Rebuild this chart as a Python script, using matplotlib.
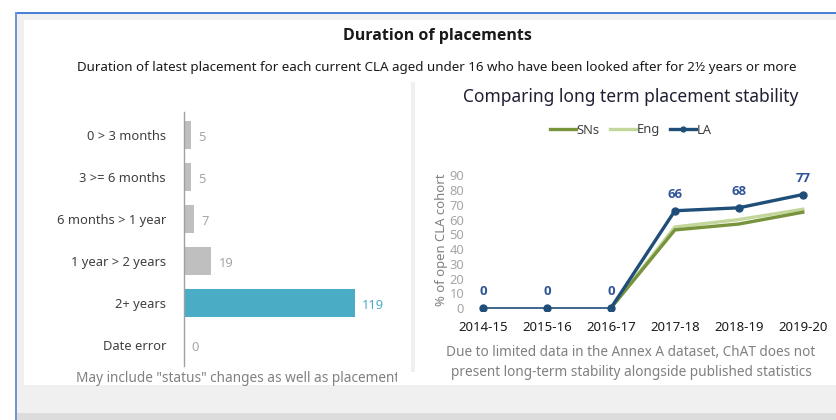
import numpy as np
import matplotlib
matplotlib.use("Agg")
import matplotlib.pyplot as plt
from matplotlib.patches import Rectangle
from matplotlib.lines import Line2D
from matplotlib.transforms import Bbox

plt.rcParams['font.family'] = ['Noto Sans', 'DejaVu Sans']
BOLD_FONT = ['Open Sans', 'DejaVu Sans']

# Left chart data
durations = ["0 > 3 months", "3 >= 6 months", "6 months > 1 year",
             "1 year > 2 years", "2+ years", "Date error"]
counts = [5, 5, 7, 19, 119, 0]

# Right chart data
years = ["2014-15", "2015-16", "2016-17", "2017-18", "2018-19", "2019-20"]
la_vals = [0, 0, 0, 66, 68, 77]
sns_vals = [np.nan, np.nan, 0, 53, 57, 65]
eng_vals = [np.nan, np.nan, 0, 55, 60, 67]

W, H = 837, 420
fig = plt.figure(figsize=(W / 100, H / 100), dpi=100)
fig.patch.set_facecolor("white")


def frac(x0, y0, x1, y1):
    # pixel box (top-left origin) -> figure fraction rect
    return [x0 / W, 1 - y1 / H, (x1 - x0) / W, (y1 - y0) / H]


# background / frame
bg = fig.add_axes([0, 0, 1, 1], zorder=-5)
bg.set_xlim(0, W)
bg.set_ylim(H, 0)
bg.axis("off")
bg.add_patch(Rectangle((17, 14), W, H, color="#f0f0f0", lw=0))
bg.add_patch(Rectangle((24, 20), W, 365, color="white", lw=0))
bg.add_patch(Rectangle((17, 413), W, 10, color="#dcdcdc", lw=0))
bg.add_patch(Rectangle((15, 12), W, 2, color="#4a7fd6", lw=0))
bg.add_patch(Rectangle((15, 12), 2, H, color="#6f95de", lw=0))
bg.add_patch(Rectangle((411, 82), 4, 290, color="#f0f0f0", lw=0))

# titles
fig.text(437 / W, 1 - 36 / H, "Duration of placements", ha="center", va="center",
         fontsize=11.5, fontweight="bold", family=BOLD_FONT, color="#1a1a1a")
fig.text(437 / W, 1 - 68 / H,
         "Duration of latest placement for each current CLA aged under 16 who have been looked after for 2\u00bd years or more",
         ha="center", va="center", fontsize=9.6, color="#1a1a1a")

# ---- left: horizontal bars
ax1 = fig.add_axes(frac(184, 112, 399, 366))
ax1.set_facecolor("none")
pos = np.arange(len(durations))
colors = ["#bfbfbf"] * len(durations)
colors[4] = "#4bacc6"
ax1.barh(pos, counts, height=0.66, color=colors)
ax1.set_xlim(0, 150)
ax1.set_ylim(len(durations) - 0.5, -0.55)
ax1.set_yticks(pos)
ax1.set_yticklabels(durations, fontsize=9.3, color="#404040")
ax1.tick_params(axis="y", length=0, pad=13)
ax1.set_xticks([])
for s in ["top", "right", "bottom"]:
    ax1.spines[s].set_visible(False)
ax1.spines["left"].set_color("#a0a0a0")
ax1.spines["left"].set_linewidth(1.0)
for i, v in enumerate(counts):
    ax1.text(v + 5, i + 0.05, str(v), va="center", ha="left", fontsize=9.3,
             color="#4bacc6" if i == 4 else "#a6a6a6")

note = fig.text(76 / W, 1 - 378 / H, "May include \"status\" changes as well as placements",
                ha="left", va="center", fontsize=9.8, color="#808080")
note.set_clip_box(Bbox.from_extents(0, 0, 397, H))
note.set_clip_on(True)

# ---- right: line chart
fig.text(631 / W, 1 - 97 / H, "Comparing long term placement stability", ha="center",
         va="center", fontsize=12.5, color="#1f1f33")

ax2 = fig.add_axes(frac(467, 168, 822, 311))
ax2.set_facecolor("none")
xs = np.arange(len(years))
l_sns, = ax2.plot(xs, sns_vals, color="#77933c", lw=2.4, label="SNs", zorder=2)
l_eng, = ax2.plot(xs, eng_vals, color="#c3d69b", lw=2.4, label="Eng", zorder=1)
ax2.plot(xs[:3], la_vals[:3], color="#1f4e79", lw=1.2, zorder=3)
ax2.plot(xs[2:], la_vals[2:], color="#1f4e79", lw=2.4, zorder=3)
ax2.plot(xs, la_vals, color="#1f4e79", lw=0, marker="o", ms=5, zorder=4)
for x, v in zip(xs, la_vals):
    ax2.annotate(str(v), (x, v), xytext=(0, 7), textcoords="offset points",
                 ha="center", va="bottom", fontsize=9.5, fontweight="bold",
                 family=BOLD_FONT, color="#2f5597")
ax2.set_xlim(-0.25, 5.3)
ax2.set_ylim(-2, 95)
ax2.set_yticks(range(0, 91, 10))
ax2.tick_params(axis="y", length=0, pad=2, labelsize=9.3, labelcolor="#a6a6a6")
ax2.set_xticks(xs)
ax2.set_xticklabels(years, fontsize=9.5, color="#1a1a1a")
ax2.tick_params(axis="x", length=0, pad=7)
for s in ax2.spines.values():
    s.set_visible(False)
ax2.set_ylabel("% of open CLA cohort", fontsize=9.4, color="#808080", labelpad=1)

h_la = Line2D([], [], color="#1f4e79", lw=2.4, marker="o", ms=3.5)
fig.legend([l_sns, l_eng, h_la], ["SNs", "Eng", "LA"], loc="center",
           bbox_to_anchor=(631 / W, 1 - 130 / H), ncol=3, frameon=False,
           fontsize=9.3, handlelength=2.0, handletextpad=0.05, columnspacing=0.8,
           labelcolor="#404040")

fig.text(631 / W, 1 - 353 / H, "Due to limited data in the Annex A dataset, ChAT does not",
         ha="center", va="center", fontsize=9.8, color="#808080")
fig.text(631 / W, 1 - 373 / H, "present long-term stability alongside published statistics",
         ha="center", va="center", fontsize=9.8, color="#808080")

fig.savefig("out.png", dpi=100)
